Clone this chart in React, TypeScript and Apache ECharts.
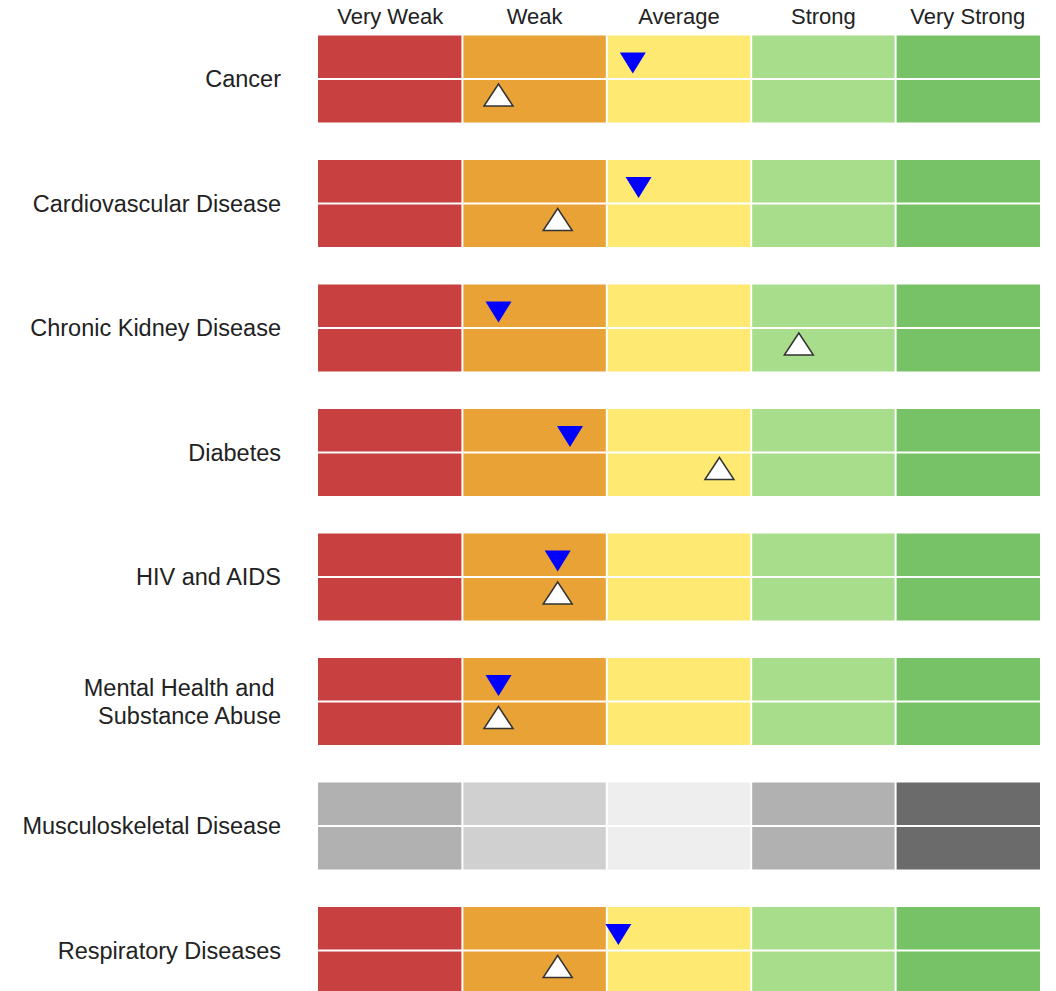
import React, { useEffect, useRef } from "react";
import * as echarts from "echarts";

const categories = [
  "Cancer",
  "Cardiovascular Disease",
  "Chronic Kidney Disease",
  "Diabetes",
  "HIV and AIDS",
  "Mental Health and \nSubstance Abuse",
  "Musculoskeletal Disease",
  "Respiratory Diseases",
];
const levels = ["Very Weak", "Weak", "Average", "Strong", "Very Strong"];
// blue downward markers (top half of each row), on a 0–5 scale of the five bands
const currentValues: (number | null)[] = [2.18, 2.22, 1.25, 1.745, 1.66, 1.25, null, 2.08];
// white upward markers (bottom half of each row)
const benchmarkValues: (number | null)[] = [1.25, 1.66, 3.33, 2.78, 1.66, 1.25, null, 1.66];
// 0 = coloured band, 1 = grey band
const rowPalette = [0, 0, 0, 0, 0, 0, 1, 0];
const colorPalette = ["#c84040", "#e8a235", "#feea72", "#a7dd8b", "#77c167"];
const grayPalette = ["#b1b1b1", "#d0d0d0", "#eeeeee", "#b1b1b1", "#6b6b6b"];

export default function App() {
  const ref = useRef<HTMLDivElement>(null);
  useEffect(() => {
    if (!ref.current) return;
    const chart = echarts.init(ref.current, null, { renderer: "svg" });

    const cells: number[][] = [];
    categories.forEach((_, r) => {
      levels.forEach((__, c) => {
        cells.push([c, r, rowPalette[r]]);
      });
    });

    const blueData: number[][] = [];
    const whiteData: number[][] = [];
    categories.forEach((_, i) => {
      const b = currentValues[i];
      const w = benchmarkValues[i];
      if (b != null) blueData.push([b, i]);
      if (w != null) whiteData.push([w, i]);
    });

    const font = '"Liberation Sans", Arial, sans-serif';

    chart.setOption({
      animation: false,
      grid: {
        left: 318,
        right: 16,
        top: 16.75,
        bottom: -21.75,
        containLabel: false,
        outerBoundsMode: "none",
      },
      xAxis: [
        {
          type: "value",
          min: 0,
          max: 5,
          show: false,
        },
        {
          type: "category",
          position: "top",
          data: levels,
          axisLine: { show: false },
          axisTick: { show: false },
          splitLine: { show: false },
          axisLabel: {
            interval: 0,
            fontSize: 22,
            color: "#222",
            fontFamily: font,
            verticalAlign: "middle",
            margin: 0,
          },
        },
      ],
      yAxis: {
        type: "category",
        inverse: true,
        data: categories,
        axisLine: { show: false },
        axisTick: { show: false },
        splitLine: { show: false },
        axisLabel: {
          interval: 0,
          fontSize: 23.5,
          color: "#222",
          fontFamily: font,
          margin: 37,
          lineHeight: 28,
          align: "right",
        },
      },
      series: [
        {
          type: "custom",
          xAxisIndex: 0,
          yAxisIndex: 0,
          silent: true,
          encode: { x: 0, y: 1 },
          data: cells,
          renderItem: (params: any, api: any) => {
            const c = api.value(0);
            const r = api.value(1);
            const p = api.value(2);
            const start = api.coord([c, r]);
            const end = api.coord([c + 1, r]);
            const band = api.size([0, 1])[1];
            const half = band * 0.35;
            const x0 = start[0] + (c === 0 ? 0 : 1);
            const x1 = end[0] - (c === levels.length - 1 ? 0 : 1);
            const yc = start[1];
            const fill = (p ? grayPalette : colorPalette)[c];
            return {
              type: "group",
              children: [
                {
                  type: "rect",
                  shape: { x: x0, y: yc - half, width: x1 - x0, height: half - 1 },
                  style: { fill },
                },
                {
                  type: "rect",
                  shape: { x: x0, y: yc + 1, width: x1 - x0, height: half - 1 },
                  style: { fill },
                },
              ],
            };
          },
          z: 1,
        },
        {
          type: "scatter",
          xAxisIndex: 0,
          yAxisIndex: 0,
          silent: true,
          data: blueData,
          symbol: "path://M0,0L2,0L1,2Z",
          symbolSize: [26, 21],
          symbolOffset: [0, -16],
          itemStyle: { color: "#0000ff", opacity: 1 },
          z: 3,
        },
        {
          type: "scatter",
          xAxisIndex: 0,
          yAxisIndex: 0,
          silent: true,
          data: whiteData,
          symbol: "triangle",
          symbolSize: [29, 22],
          symbolOffset: [0, 16],
          itemStyle: { color: "#ffffff", borderColor: "#333333", borderWidth: 1.5, opacity: 1 },
          z: 3,
        },
      ],
    });
    return () => chart.dispose();
  }, []);

  return (
    <div
      ref={ref}
      style={{ position: "absolute", left: 0, top: 0, width: 1056, height: 991 }}
    />
  );
}
